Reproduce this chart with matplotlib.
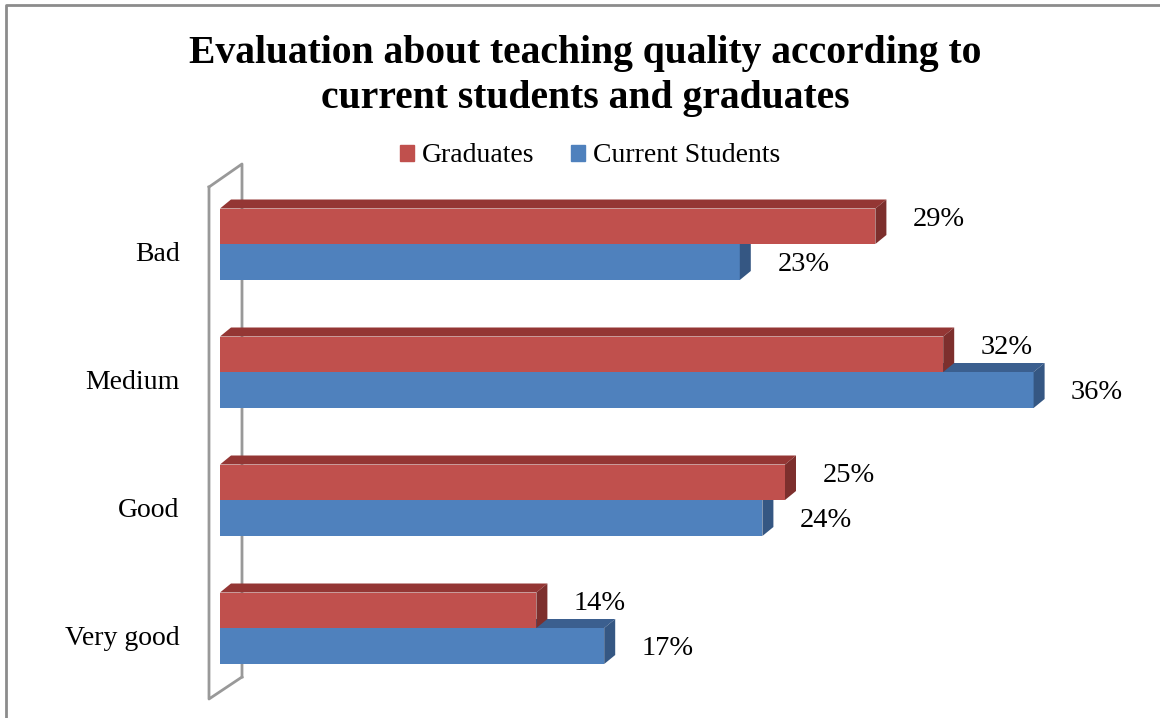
import matplotlib.pyplot as plt
from matplotlib.patches import Polygon
from matplotlib.lines import Line2D

categories = ["Bad", "Medium", "Good", "Very good"]
graduates = [29, 32, 25, 14]
current_students = [23, 36, 24, 17]

red_front, red_top, red_side = "#c0504d", "#943634", "#7d2f2d"
blue_front, blue_top, blue_side = "#4f81bd", "#3b5f8f", "#355783"

W, H = 1160, 718
fig = plt.figure(figsize=(W / 100, H / 100), dpi=100)
plt.rcParams["font.family"] = ["Liberation Serif", "DejaVu Serif"]

# plot area: x 0..40 % spans pixels 220..1124, categories 128 px apart
x0_px, px_per_pct = 220, 22.6
y_top_px, y_bot_px = 164, 700
ax = fig.add_axes([x0_px / W, 1 - y_bot_px / H, 40 * px_per_pct / W,
                   (y_bot_px - y_top_px) / H])
ax.set_xlim(0, 40)
ax.set_ylim((y_bot_px - 244) / 128, (y_top_px - 244) / 128)
ax.axis("off")

# depth of the 3d boxes, in data units
dx = 11 / px_per_pct
dy = -9 / 128
h_red = 35.5 / 128
h_blue = 36 / 128


def box(ax, y_top, height, value, front, top, side, z):
    ax.barh(y_top + height / 2, value, height=height, color=front,
            zorder=z, linewidth=0)
    ax.add_patch(Polygon([(0, y_top), (dx, y_top + dy), (value + dx, y_top + dy),
                          (value, y_top)], closed=True, color=top, zorder=z,
                         linewidth=0))
    ax.add_patch(Polygon([(value, y_top), (value + dx, y_top + dy),
                          (value + dx, y_top + height + dy), (value, y_top + height)],
                         closed=True, color=side, zorder=z, linewidth=0))


for i, (g, c) in enumerate(zip(graduates, current_students)):
    box(ax, i, h_blue, c, blue_front, blue_top, blue_side, 3)
    box(ax, i - h_red, h_red, g, red_front, red_top, red_side, 4)
    ax.annotate(f"{g}%", (g, i - h_red / 2), xytext=(27, 5),
                textcoords="offset points", ha="left", va="center", fontsize=20.5)
    ax.annotate(f"{c}%", (c, i + h_blue / 2), xytext=(27, -2),
                textcoords="offset points", ha="left", va="center", fontsize=20.5)
    ax.annotate(categories[i], (0, i), xytext=(-29, -7.5),
                textcoords="offset points", ha="right", va="center", fontsize=20)

# side wall
wall_x = [-11 / px_per_pct, 22 / px_per_pct]
wy = lambda p: (p - 244) / 128
wall_kw = dict(color="#999999", lw=2, clip_on=False)
ax.plot([wall_x[0], wall_x[0], wall_x[1]], [wy(187), wy(699), wy(677)], zorder=1, **wall_kw)
ax.plot([wall_x[0], wall_x[1], wall_x[1]], [wy(187), wy(164), wy(677)], zorder=1, **wall_kw)

fig.text(585 / W, 1 - 76 / H,
         "Evaluation about teaching quality according to\ncurrent students and graduates",
         ha="center", va="center", fontsize=28.5, fontweight="bold", linespacing=1.27)

handles = [plt.Rectangle((0, 0), 1, 1, color=red_front),
           plt.Rectangle((0, 0), 1, 1, color=blue_front)]
fig.legend(handles, ["Graduates", "Current Students"], loc="center",
           bbox_to_anchor=(590 / W, 1 - 156 / H), ncol=2, frameon=False,
           fontsize=20, handlelength=0.5, handleheight=0.5, handletextpad=0.3,
           columnspacing=1.3)

fig.add_artist(Line2D([6 / W, 6 / W, 1], [0, 1 - 5 / H, 1 - 5 / H],
                      color="#8c8c8c", lw=2, transform=fig.transFigure))

fig.savefig("out.png", dpi=100)
